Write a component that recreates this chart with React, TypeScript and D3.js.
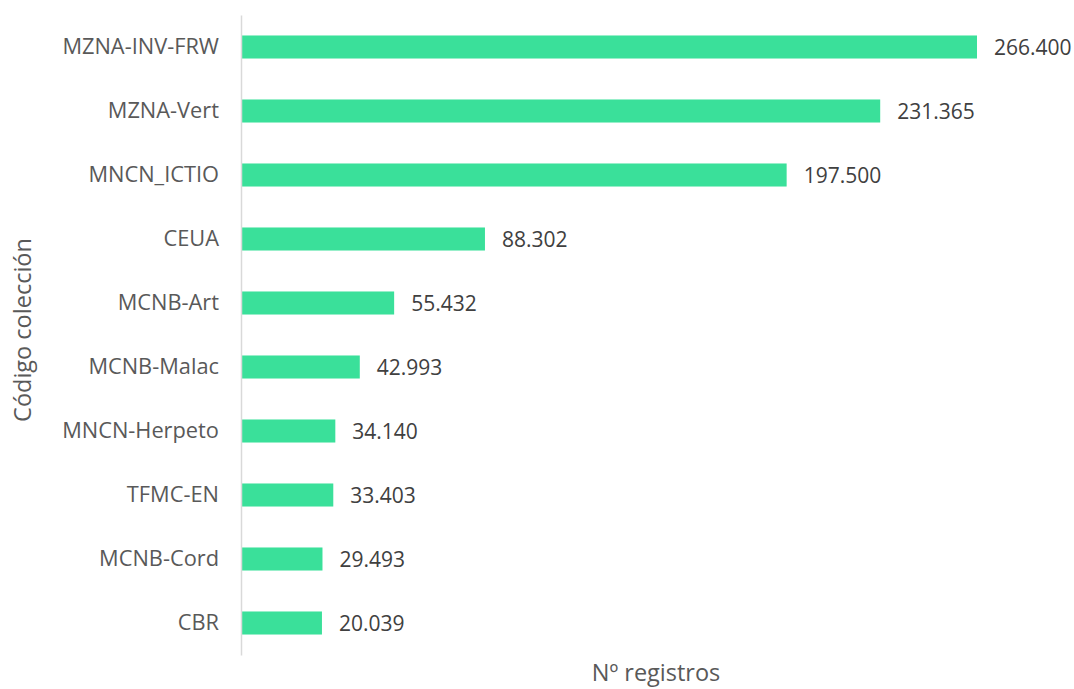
import { useEffect, useRef } from "react";
import * as d3 from "d3";

// codes of the collections, top to bottom
const colecciones = [
  "MZNA-INV-FRW",
  "MZNA-Vert",
  "MNCN_ICTIO",
  "CEUA",
  "MCNB-Art",
  "MCNB-Malac",
  "MNCN-Herpeto",
  "TFMC-EN",
  "MCNB-Cord",
  "CBR",
];

// number of records as printed next to each bar
const registros = [266400, 231365, 197500, 88302, 55432, 42993, 34140, 33403, 29493, 20039];

// bar lengths as drawn in the picture (CBR bar is drawn longer than its label)
const longitudes = [266400, 231365, 197500, 88302, 55432, 42993, 34140, 33403, 29493, 29300];

const fmt = (v) => d3.format(",")(v).replace(/,/g, ".");

export default function App() {
  const ref = useRef(null);

  useEffect(() => {
    const el = ref.current;
    d3.select(el).selectAll("*").remove();

    const width = 1074;
    const height = 689;
    const margin = { top: 15, right: 97, bottom: 34, left: 241 };

    const svg = d3
      .select(el)
      .append("svg")
      .attr("width", width)
      .attr("height", height)
      .style("display", "block")
      .style("font-family", "'Open Sans', sans-serif");

    const x = d3
      .scaleLinear()
      .domain([0, 266400])
      .range([margin.left, width - margin.right]);

    const y = d3
      .scaleBand()
      .domain(colecciones)
      .range([margin.top, height - margin.bottom])
      .paddingInner(0.64)
      .paddingOuter(0.32);

    svg
      .append("g")
      .selectAll("rect")
      .data(colecciones)
      .join("rect")
      .attr("x", x(0))
      .attr("y", (d) => y(d))
      .attr("width", (d, i) => x(longitudes[i]) - x(0))
      .attr("height", y.bandwidth())
      .attr("fill", "#3ae09a");

    svg
      .append("g")
      .selectAll("text")
      .data(colecciones)
      .join("text")
      .attr("x", (d, i) => x(longitudes[i]) + 17)
      .attr("y", (d) => y(d) + y.bandwidth() / 2 + 8)
      .attr("fill", "#404040")
      .style("font-size", "21px")
      .text((d, i) => fmt(registros[i]));

    const yAxis = svg
      .append("g")
      .attr("transform", "translate(" + x(0) + ",0)")
      .call(d3.axisLeft(y).tickSize(0).tickPadding(22));
    yAxis.select(".domain").attr("stroke", "#d9d9d9").attr("stroke-width", 1.5);
    yAxis
      .selectAll("text")
      .attr("fill", "#595959")
      .style("font-family", "'Open Sans', sans-serif")
      .style("font-size", "21.8px");

    svg
      .append("text")
      .attr("x", 656)
      .attr("y", 681)
      .attr("text-anchor", "middle")
      .attr("fill", "#595959")
      .style("font-size", "23.5px")
      .text("Nº registros");

    svg
      .append("text")
      .attr("transform", "translate(31,330) rotate(-90)")
      .attr("text-anchor", "middle")
      .attr("fill", "#595959")
      .style("font-size", "23.5px")
      .text("Código colección");
  }, []);

  return <div ref={ref} style={{ position: "absolute", left: 0, top: 0 }} />;
}
